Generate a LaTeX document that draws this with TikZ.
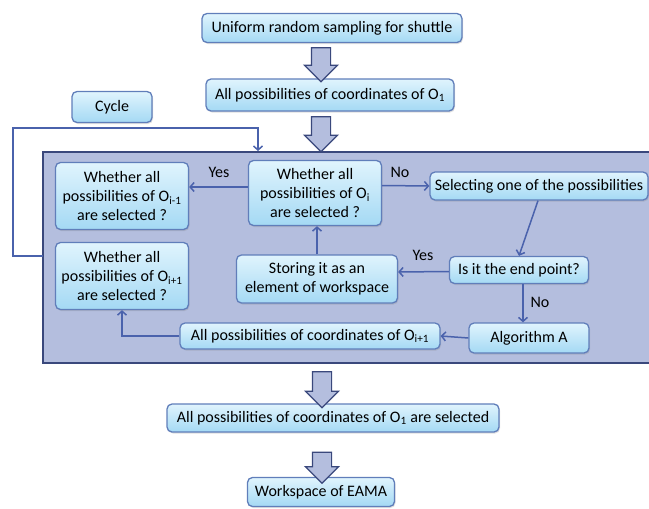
\documentclass[tikz,border=0pt]{standalone}
\usepackage{fontspec}
\setmainfont{Carlito}
\usetikzlibrary{arrows.meta,shapes.arrows,shadows}
\definecolor{boxtop}{RGB}{224,244,253}
\definecolor{boxbot}{RGB}{164,217,244}
\definecolor{boxline}{RGB}{96,126,186}
\definecolor{panelfill}{RGB}{180,190,222}
\definecolor{panelline}{RGB}{58,72,124}
\definecolor{flowblue}{RGB}{74,98,172}

\begin{document}
\begin{tikzpicture}[x=1pt,y=-1pt,
	every node/.style={font=\fontsize{16}{19}\selectfont},
	box/.style={rectangle, rounded corners=5pt, draw=boxline, line width=1.3pt, top color=boxtop, bottom color=boxbot, align=center, inner sep=2pt, drop shadow={opacity=0.25, shadow xshift=1pt, shadow yshift=-1.5pt}},
	panel/.style={rectangle, draw=panelline, fill=panelfill, line width=1.5pt, inner sep=0pt},
	bigarrow/.style={single arrow, draw=panelline, fill=panelfill, line width=1.2pt, inner sep=9pt, single arrow head extend=7pt, rotate=-90},
	flow/.style={draw=flowblue, line width=1.5pt, -{Straight Barb[length=4pt,width=9pt]}},
	lbl/.style={inner sep=0pt}]
			\useasboundingbox (0,0) rectangle (649,509);

			% Background panel of the loop
			\node[panel, minimum width=617, minimum height=211] (loop) at (351.5,257.5) {};

			% Define nodes
			\node[box, minimum width=260, minimum height=29] (sample) at (332,28) {Uniform random sampling for shuttle};
			\node[box, minimum width=248, minimum height=32] (coordone) at (330,95) {All possibilities of coordinates of O\textsubscript{1}};
			\node[box, minimum width=80, minimum height=31] (cycle) at (112,107) {Cycle};
			\node[box, minimum width=133, minimum height=67] (prevq) at (122,196) {Whether all\\possibilities of O\textsubscript{i-1}\\are selected ?};
			\node[box, minimum width=133, minimum height=67] (nextq) at (122,276) {Whether all\\possibilities of O\textsubscript{i+1}\\are selected ?};
			\node[box, minimum width=133, minimum height=65] (curq) at (315,193) {Whether all\\possibilities of O\textsubscript{i}\\are selected ?};
			\node[box, minimum width=218, minimum height=28] (select) at (539,186) {Selecting one of the possibilities};
			\node[box, minimum width=139, minimum height=27] (endq) at (519,270) {Is it the end point?};
			\node[box, minimum width=161, minimum height=48] (store) at (317,279) {Storing it as an\\element of workspace};
			\node[box, minimum width=120, minimum height=30] (alg) at (529,338) {Algorithm A};
			\node[box, minimum width=260, minimum height=26] (nextco) at (310,336) {All possibilities of coordinates of O\textsubscript{i+1}};
			\node[box, minimum width=332, minimum height=28] (done) at (333,418) {All possibilities of coordinates of O\textsubscript{1} are selected};
			\node[box, minimum width=147, minimum height=29] (space) at (321,492) {Workspace of EAMA};

			% Block arrows
			\node[bigarrow, minimum height=34] (a1) at (321,60) {};
			\node[bigarrow, minimum height=35] (a2) at (321,129.5) {};
			\node[bigarrow, minimum height=36] (a3) at (322,385) {};
			\node[bigarrow, minimum height=31] (a4) at (322,463) {};

			% Cycle line
			\coordinate (cycout) at (43,256);
			\coordinate (cycbend) at (13,128);
			\coordinate (cycin) at (258,151);
			\draw[flow] (cycout) -| (cycbend) -| (cycin);

			% Draw flow edges
			\draw[flow] ([yshift=6pt]curq.west) -- ([yshift=9pt]prevq.east);
			\draw[flow] ([yshift=7.5pt]curq.east) -- (select.west);
			\draw[flow] ([xshift=-1pt]select.south) -- (endq.north);
			\draw[flow] ([yshift=-1.5pt]endq.west) -- ([yshift=7pt]store.east);
			\draw[flow] (store.north) -- (store.north |- curq.south);
			\draw[flow] ([xshift=4pt]endq.south) -- ([xshift=-6pt]alg.north);
			\draw[flow] (alg.west) -- (nextco.east);
			\draw[flow] (nextco.west) -| (nextq.south);

			\node[lbl] (yesleft) at (219,172) {Yes};
			\node[lbl] (noright) at (400,172) {No};
			\node[lbl] (yesend) at (423,255) {Yes};
			\node[lbl] (noend) at (540,302) {No};

		\end{tikzpicture}
\end{document}
